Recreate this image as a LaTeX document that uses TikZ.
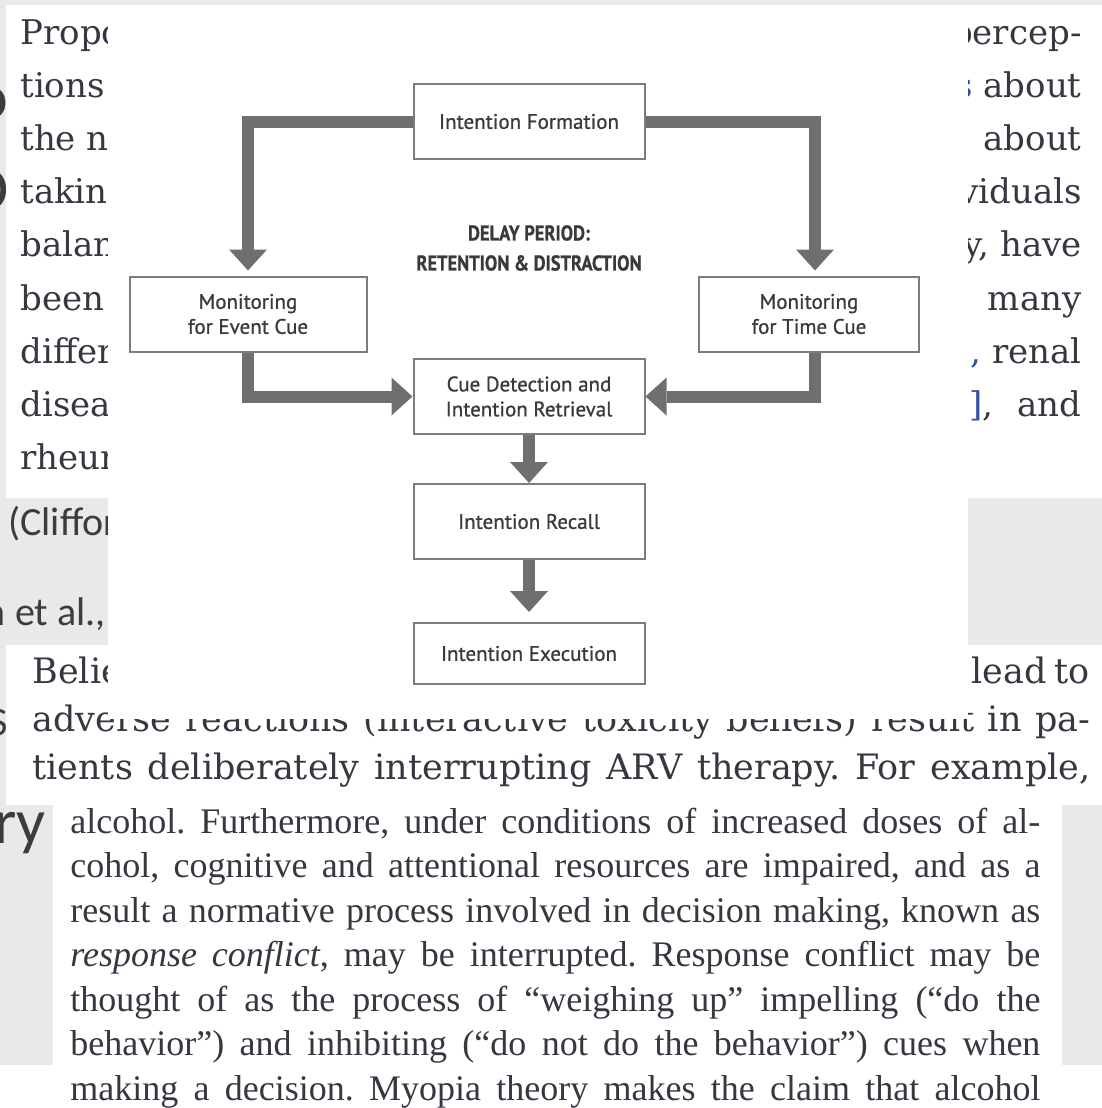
\documentclass[tikz,border=0pt]{standalone}
\usepackage{fontspec}
\usepackage{xcolor}
\usetikzlibrary{positioning}
\usetikzlibrary{arrows.meta}
\newfontfamily\pageserif{DejaVu Serif}
\newfontfamily\bookserif{Liberation Serif}
\newfontfamily\slidesans{Carlito}
\newfontfamily\chartsans[FakeBold=0.8]{PT Sans}
\definecolor{pagegray}{HTML}{E9E9E9}
\definecolor{inkdark}{HTML}{3B3541}
\definecolor{slideink}{HTML}{403B3B}
\definecolor{linkblue}{HTML}{2F4FA8}
\definecolor{boxline}{HTML}{7C7C7C}
\definecolor{flowgray}{HTML}{6F6F6F}
\definecolor{labelink}{HTML}{3A3A3A}
\frenchspacing

\begin{document}
\begin{tikzpicture}[x=0.5pt,y=-0.5pt,on grid,
   slidetxt/.style={inner sep=0pt,text=slideink,font=\slidesans\fontsize{20pt}{24pt}\selectfont},
   slidehead/.style={inner sep=0pt,text=slideink,font=\slidesans\fontsize{32pt}{36pt}\selectfont},
   coltxt/.style={inner sep=0pt,text=inkdark,font=\pageserif\fontsize{17pt}{20pt}\selectfont},
   paratxt/.style={inner sep=0pt,anchor=base west,text=inkdark,font=\pageserif\fontsize{17.5pt}{21pt}\selectfont},
   booktxt/.style={inner sep=0pt,anchor=base west,text=inkdark,font=\bookserif\fontsize{18pt}{21pt}\selectfont},
   stagebox/.style={draw=boxline,line width=1pt,fill=white,minimum width=115.5pt,minimum height=37.5pt,
      align=center,inner sep=2pt,text=labelink,font=\chartsans\fontsize{10.5pt}{12.5pt}\selectfont},
   delaytxt/.style={align=center,inner sep=0pt,text=labelink,font=\chartsans\bfseries\fontsize{10.7pt}{15pt}\selectfont},
   flowarrow/.style={draw=flowgray,line width=6pt,-{Triangle[width=19pt,length=10.5pt,line width=0pt]}}]
   \useasboundingbox (0,0) rectangle (1102,1108);
   \fill[pagegray] (0,0) rectangle (1102,1108);

   % slide behind
   \node[slidehead,anchor=base east] (sliverA) at (9,118) {o};
   \node[slidehead,anchor=base east] (sliverB) at (9,210) {O};
   \node[slidetxt,anchor=base east] (sliverC) at (8,735) {S};
   \node[slidetxt,anchor=base west] (clifford) at (8,535) {(Clifford};
   \node[slidetxt,anchor=base east] (etal) at (106,625) {n et al.,};
   \node[slidehead,anchor=base west] (theory) at (-6,843) {ry};

   % first page
   \fill[white] (6,5) rectangle (1102,498);
   \foreach \word [count=\i from 0] in {Propo,tions,the ne,taking,balance,been,different,diseases,rheumatoid}
      \node[coltxt,anchor=base west] (left\i) at (20,44+53.2*\i) {\word};
   \foreach \word [count=\i from 0] in {{percep-},{\textcolor{linkblue}{s} about},{about},{individuals},
         {y, have},{many},{\textcolor{linkblue}{,} renal},{\textcolor{linkblue}{]},\hspace{12pt}and}}
      \node[coltxt,anchor=base east] (right\i) at (1082,44+53.2*\i) {\word};

   % second page
   \fill[white] (6,645) rectangle (1102,805);
   \node[paratxt] (belie) at (32,683) {Beliefs};
   \node[paratxt,anchor=base east] (leadto) at (1090,683) {lead\hspace{4pt}to};
   \node[paratxt] (adverse) at (32,731) {\makebox[529pt][s]{adverse reactions (interactive toxicity beliefs) result in pa-}};
   \node[paratxt] (tients) at (32,779) {\makebox[529pt][s]{tients deliberately interrupting ARV therapy. For example,}};

   % third page
   \fill[white] (53,805) rectangle (1062,1108);
   \fill[white] (0,1065) rectangle (1102,1108);
   \foreach \line [count=\i from 0] in {
         {alcohol. Furthermore, under conditions of increased doses of al-},
         {cohol, cognitive and attentional resources are impaired, and as a},
         {result a normative process involved in decision making, known as},
         {\textit{response conflict}, may be interrupted. Response conflict may be},
         {thought of as the process of “weighing up” impelling (“do the},
         {behavior”) and inhibiting (“do not do the behavior”) cues when},
         {making a decision. Myopia theory makes the claim that alcohol}}
      \node[booktxt] (book\i) at (70,833+44.5*\i) {\makebox[485pt][s]{\line}};

   % figure
   \fill[white] (108,5) rectangle (968,719);
   \node[stagebox] (form) at (529,121.5) {Intention Formation};
   \node[stagebox] (cue) [below=137.5pt of form] {Cue Detection and\\Intention Retrieval};
   \node[stagebox] (recall) [below=62.5pt of cue] {Intention Recall};
   \node[stagebox,minimum height=30.5pt] (exec) [below=66pt of recall] {Intention Execution};
   \node[stagebox,minimum width=118.5pt] (event) [above left=41.25pt and 140.5pt of cue] {Monitoring\\for Event Cue};
   \node[stagebox,minimum width=110pt] (time) [above right=41.25pt and 140pt of cue] {Monitoring\\for Time Cue};
   \node[delaytxt] (delay) [below=63.25pt of form] {\scalebox{0.86}[1]{DELAY PERIOD:}\\\scalebox{0.86}[1]{RETENTION \& DISTRACTION}};

   \draw[flowarrow,shorten >=2.5pt] (form.west) -| (event.north);
   \draw[flowarrow,shorten >=2.5pt] (form.east) -| ([xshift=3pt]time.north);
   \draw[flowarrow] (event.south) |- (cue.west);
   \draw[flowarrow] ([xshift=3pt]time.south) |- (cue.east);
   \draw[flowarrow] (cue.south) -- (recall.north);
   \draw[flowarrow,shorten >=5pt] (recall.south) -- (exec.north);
\end{tikzpicture}
\end{document}
